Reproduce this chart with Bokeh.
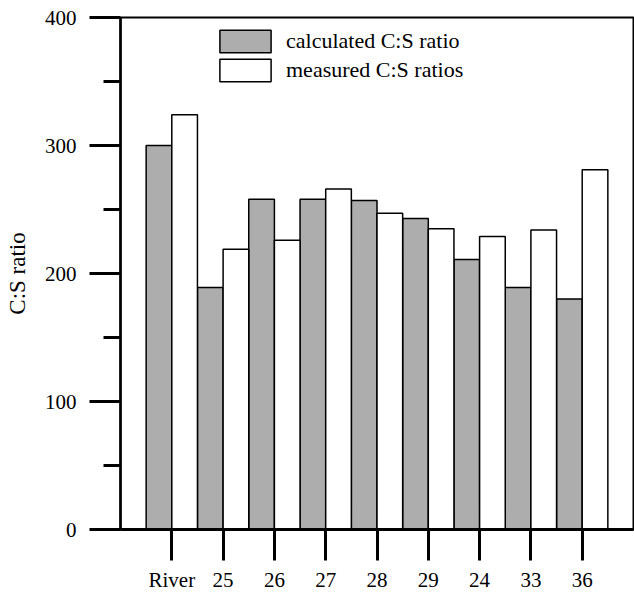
from bokeh.plotting import figure
from bokeh.models import ColumnDataSource, FixedTicker, Range1d, Legend, LegendItem
from bokeh.embed import file_html
from bokeh.resources import INLINE

# ---- data ----
sites = ["River", "25", "26", "27", "28", "29", "24", "33", "36"]
calculated = [300, 189, 258, 258, 257, 243, 211, 189, 180]
measured = [324, 219, 226, 266, 247, 235, 229, 234, 281]

positions = list(range(1, len(sites) + 1))
src = ColumnDataSource(dict(
    xc=[p - 0.25 for p in positions],
    xm=[p + 0.25 for p in positions],
    calc=calculated,
    meas=measured,
))

FONT = "'Liberation Serif', 'Times New Roman', serif"

p = figure(width=634, height=594, output_backend="svg", toolbar_location=None,
           x_range=Range1d(0, 10), y_range=Range1d(0, 400),
           min_border_left=120, min_border_right=1, min_border_top=17, min_border_bottom=64)

p.background_fill_color = "white"
p.border_fill_color = "white"
p.grid.visible = False
p.outline_line_color = "black"
p.outline_line_width = 2

r_calc = p.vbar(x="xc", top="calc", width=0.5, bottom=0, source=src,
                fill_color="#adadad", line_color="black", line_width=1.5)
r_meas = p.vbar(x="xm", top="meas", width=0.5, bottom=0, source=src,
                fill_color="white", line_color="black", line_width=1.5)

# y axis
ya = p.yaxis[0]
ya.ticker = FixedTicker(ticks=[0, 100, 200, 300, 400], minor_ticks=[50, 150, 250, 350])
ya.axis_line_width = 2.5
ya.major_tick_line_width = 3
ya.minor_tick_line_width = 3
ya.major_tick_out = 31
ya.major_tick_in = 0
ya.minor_tick_out = 17
ya.minor_tick_in = 0
ya.major_label_text_font = FONT
ya.major_label_text_font_size = "21px"
ya.major_label_text_color = "black"
ya.major_label_standoff = 13
ya.axis_label = "C:S ratio"
ya.axis_label_text_font = FONT
ya.axis_label_text_font_size = "23px"
ya.axis_label_text_font_style = "normal"
ya.axis_label_text_color = "black"
ya.axis_label_standoff = 12

# x axis
xa = p.xaxis[0]
xa.ticker = FixedTicker(ticks=positions, minor_ticks=[])
xa.major_label_overrides = {pos: s for pos, s in zip(positions, sites)}
xa.axis_line_width = 3
xa.major_tick_line_width = 3
xa.major_tick_out = 31
xa.major_tick_in = 0
xa.minor_tick_out = 0
xa.minor_tick_in = 0
xa.major_label_text_font = FONT
xa.major_label_text_font_size = "21px"
xa.major_label_text_color = "black"
xa.major_label_standoff = 7

legend = Legend(items=[
    LegendItem(label="calculated C:S ratio", renderers=[r_calc]),
    LegendItem(label="measured C:S ratios", renderers=[r_meas]),
], location=(93, 445))
legend.label_text_font = FONT
legend.label_text_font_size = "22px"
legend.label_text_color = "black"
legend.glyph_width = 64
legend.glyph_height = 28
legend.label_height = 28
legend.spacing = 1
legend.label_standoff = 9
legend.padding = 0
legend.margin = 0
legend.border_line_alpha = 0
legend.background_fill_alpha = 0
p.add_layout(legend)

open("out.html", "w").write(file_html(p, INLINE))
